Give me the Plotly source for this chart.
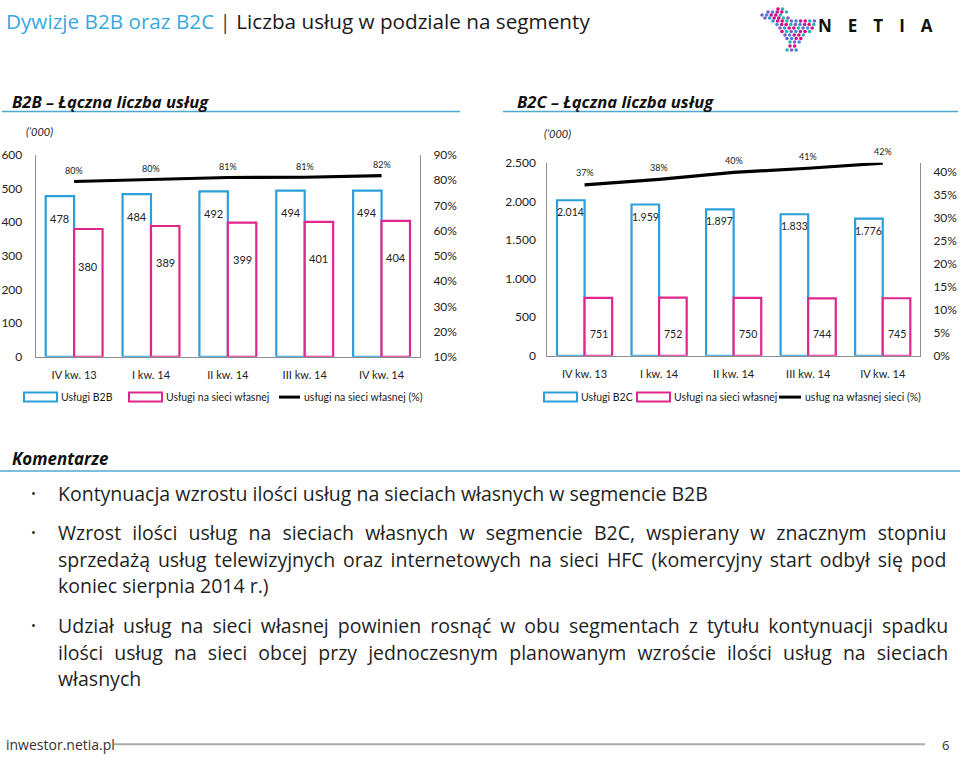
import plotly.graph_objects as go

W, H = 960, 759

categories = ["IV kw. 13", "I kw. 14", "II kw. 14", "III kw. 14", "IV kw. 14"]
b2b_total = [478, 484, 492, 494, 494]
b2b_own = [380, 389, 399, 401, 404]
b2b_pct = [0.795, 0.804, 0.811, 0.812, 0.818]
b2c_total = [2014, 1959, 1897, 1833, 1776]
b2c_own = [751, 752, 750, 744, 745]
b2c_pct = [0.372, 0.384, 0.399, 0.408, 0.419]

b2b_legend = ["Usługi B2B", "Usługi na sieci własnej", "usługi na sieci własnej (%)"]
b2c_legend = ["Usługi B2C", "Usługi na sieci własnej", "usług na własnej sieci (%)"]

BLUE = "#2C9FDA"
PINK = "#E0268C"
CHART_FONT = "Lato"
TEXT_FONT = "Open Sans"

# the photographed page shows the figure slightly offset/compressed vertically;
# these factors map reference pixel rows to figure rows
Y_OFF, Y_SCALE = 8.0, 0.98


def px(x):
    return x / W


def py(y):
    return 1 - ((y - Y_OFF) / Y_SCALE) / H


def fmt_pl(v):
    return f"{v:,}".replace(",", ".")


fig = go.Figure()

# B2B chart
fig.add_trace(go.Bar(x=categories, y=b2b_total, name=b2b_legend[0], xaxis="x", yaxis="y",
                     marker=dict(color="white", line=dict(color=BLUE, width=2.2))))
fig.add_trace(go.Bar(x=categories, y=b2b_own, name=b2b_legend[1], xaxis="x", yaxis="y",
                     marker=dict(color="white", line=dict(color=PINK, width=2.2))))
fig.add_trace(go.Scatter(x=categories, y=b2b_pct, name=b2b_legend[2], xaxis="x", yaxis="y2",
                         mode="lines", line=dict(color="black", width=3.2), cliponaxis=False))

# B2C chart
fig.add_trace(go.Bar(x=categories, y=b2c_total, name=b2c_legend[0], xaxis="x2", yaxis="y3",
                     marker=dict(color="white", line=dict(color=BLUE, width=2.2))))
fig.add_trace(go.Bar(x=categories, y=b2c_own, name=b2c_legend[1], xaxis="x2", yaxis="y3",
                     marker=dict(color="white", line=dict(color=PINK, width=2.2))))
fig.add_trace(go.Scatter(x=categories, y=b2c_pct, name=b2c_legend[2], xaxis="x2", yaxis="y4",
                         mode="lines", line=dict(color="black", width=3.2), cliponaxis=False))

annotations = []
lab_font = dict(family=CHART_FONT, size=11, color="#222")
lab_font_s = dict(family=CHART_FONT, size=10.5, color="#222")
pct_font = dict(family=CHART_FONT, size=9, color="#222")

# bar value labels
for c, v in zip(categories, b2b_total):
    annotations.append(dict(x=c, y=v, xref="x", yref="y", text=str(v), showarrow=False,
                            xshift=-14.2, yshift=-22, font=lab_font))
for c, v in zip(categories, b2b_own):
    annotations.append(dict(x=c, y=v, xref="x", yref="y", text=str(v), showarrow=False,
                            xshift=14.2, yshift=-37, font=lab_font))
for c, v in zip(categories, b2c_total):
    annotations.append(dict(x=c, y=v, xref="x2", yref="y3", text=fmt_pl(v), showarrow=False,
                            xshift=-14, yshift=-12, font=lab_font_s))
for c, v in zip(categories, b2c_own):
    annotations.append(dict(x=c, y=v, xref="x2", yref="y3", text=str(v), showarrow=False,
                            xshift=14, yshift=-36, font=lab_font_s))
# percentage labels above lines
for c, v in zip(categories, b2b_pct):
    annotations.append(dict(x=c, y=v, xref="x", yref="y2", text=f"{round(v*100)}%", showarrow=False,
                            yshift=11, font=pct_font))
for c, v in zip(categories, b2c_pct):
    annotations.append(dict(x=c, y=v, xref="x2", yref="y4", text=f"{round(v*100)}%", showarrow=False,
                            yshift=12, font=pct_font))


def txt(x, y, text, size, color="#1a1a1a", family=TEXT_FONT, anchor="left", **kw):
    annotations.append(dict(x=px(x), y=py(y), xref="paper", yref="paper", text=text, showarrow=False,
                            xanchor=anchor, yanchor="middle", font=dict(family=family, size=size, color=color), **kw))


shapes = []

# header
txt(4, 21, '<span style="color:#3AA8DE">Dywizje B2B oraz B2C</span> <span style="color:#444">|</span> Liczba usług w podziale na segmenty', 20.7)
txt(883, 25, '<b><span style="letter-spacing:16px">NETIA</span></b>', 17, color="#111", anchor="center")

# chart titles
txt(10, 101, "<b><i>B2B – Łączna liczba usług</i></b>", 16.6, color="#111")
txt(515, 101, "<b><i>B2C – Łączna liczba usług</i></b>", 16.6, color="#111")
txt(24, 131, "<i>(’000)</i>", 11, color="#222", family=CHART_FONT)
txt(542, 133, "<i>(’000)</i>", 11, color="#222", family=CHART_FONT)

# legends (drawn as keys + real text)
LEG_Y = 397


def legend_row(items):
    for kind, color, x0, x1, label in items:
        if kind == "box":
            shapes.append(dict(type="rect", xref="paper", yref="paper", x0=px(x0), x1=px(x1),
                               y0=py(LEG_Y + 4.5), y1=py(LEG_Y - 4.5), fillcolor="white",
                               line=dict(color=color, width=2)))
        else:
            shapes.append(dict(type="line", xref="paper", yref="paper", x0=px(x0), x1=px(x1),
                               y0=py(LEG_Y), y1=py(LEG_Y), line=dict(color=color, width=3)))
        txt(x1 + 2, LEG_Y, label, 10.5, color="#222", family=CHART_FONT)


legend_row([("box", BLUE, 24, 57, b2b_legend[0]), ("box", PINK, 129, 162, b2b_legend[1]),
            ("line", "black", 279, 300, b2b_legend[2])])
legend_row([("box", BLUE, 544, 577, b2c_legend[0]), ("box", PINK, 637, 670, b2c_legend[1]),
            ("line", "black", 779, 801, b2c_legend[2])])

# comments
txt(10, 458, "<b><i>Komentarze</i></b>", 16.9, color="#111")
lines = [
    (493, "Kontynuacja wzrostu ilości usług na sieciach własnych w segmencie B2B", 0, True),
    (532, "Wzrost ilości usług na sieciach własnych w segmencie B2C, wspierany w znacznym stopniu", 6.1, True),
    (559, "sprzedażą usług telewizyjnych oraz internetowych na sieci HFC (komercyjny start odbył się pod", 2.8, False),
    (585, "koniec sierpnia 2014 r.)", 0, False),
    (625, "Udział usług na sieci własnej powinien rosnąć w obu segmentach z tytułu kontynuacji spadku", 3.9, True),
    (652, "ilości usług na sieci obcej przy jednoczesnym planowanym wzroście ilości usług na sieciach", 6.0, False),
    (678, "własnych", 0, False),
]
for y, t, ws, bullet in lines:
    if ws:
        t = f'<span style="word-spacing:{ws}px">{t}</span>'
    txt(56, y, t, 19.5, color="#1f1f1f")
    if bullet:
        txt(29, y, "•", 13, color="#1f1f1f")

# footer
txt(4, 744, "inwestor.netia.pl", 14, color="#333")
txt(945, 745, "6", 13, color="#333", anchor="center")

shapes += [
    dict(type="line", xref="paper", yref="paper", x0=px(2), x1=px(460), y0=py(111.5), y1=py(111.5),
         line=dict(color="#4FA9D3", width=1.5)),
    dict(type="line", xref="paper", yref="paper", x0=px(503), x1=px(958), y0=py(111.5), y1=py(111.5),
         line=dict(color="#4FA9D3", width=1.5)),
    dict(type="line", xref="paper", yref="paper", x0=px(0), x1=px(960), y0=py(471), y1=py(471),
         line=dict(color="#4FA9D3", width=1.5)),
    dict(type="line", xref="paper", yref="paper", x0=px(114), x1=px(925), y0=py(744), y1=py(744),
         line=dict(color="#AAAAAA", width=2)),
]

# decorative logo dots
logo_rows = [(9, 778, 783), (12, 768, 788), (15, 762, 784), (18, 765, 790), (21, 773, 817),
             (24.5, 777, 817), (28, 780, 814), (31.5, 782, 812), (35, 785, 808), (38.5, 787, 805),
             (42, 790, 800), (46, 790, 798), (50, 787, 797)]
logo_cols = ["#E6007E", "#20B5B0", "#7B5CC9", "#3C8DDE", "#C2188F"]
k = 0
for ry, xa, xb in logo_rows:
    xx = xa
    while xx <= xb:
        r = 1.8
        shapes.append(dict(type="circle", xref="paper", yref="paper", x0=px(xx - r), x1=px(xx + r),
                           y0=py(ry + r), y1=py(ry - r), fillcolor=logo_cols[k % len(logo_cols)],
                           line=dict(width=0)))
        k += 1
        xx += 4.6

axis_common = dict(showgrid=False, zeroline=False, showline=True, linecolor="#8E8E8E", linewidth=1,
                   ticks="", tickfont=dict(family=CHART_FONT, size=12, color="#222"))
xtick_font = dict(family=CHART_FONT, size=11, color="#222")

fig.update_layout(
    width=W, height=H, margin=dict(l=0, r=0, t=0, b=0),
    paper_bgcolor="white", plot_bgcolor="white",
    separators=",.", showlegend=False,
    barmode="group", bargap=0.26, bargroupgap=0,
    xaxis=dict(domain=[px(35.7), px(420)], anchor="y", **{**axis_common, "tickfont": xtick_font}, ticklabelstandoff=8),
    yaxis=dict(domain=[py(356.7), py(155)], anchor="x", range=[0, 600], dtick=100, ticklabelstandoff=10, **axis_common),
    yaxis2=dict(overlaying="y", anchor="x", side="right", range=[0.1, 0.9], dtick=0.1, tickformat=".0%",
                ticklabelstandoff=10, **axis_common),
    xaxis2=dict(domain=[px(547.3), px(920)], anchor="y3", **{**axis_common, "tickfont": xtick_font}, ticklabelstandoff=8),
    yaxis3=dict(domain=[py(355.7), py(162.7)], anchor="x2", range=[0, 2500], dtick=500, tickformat=",d",
                ticklabelstandoff=8, **axis_common),
    yaxis4=dict(overlaying="y3", anchor="x2", side="right", range=[0, 0.42], dtick=0.05, tickformat=".0%",
                ticklabelstandoff=10, **axis_common),
    annotations=annotations,
    shapes=shapes,
)

fig.write_html(
    "out.html",
    config={"displayModeBar": False},
    post_script=(
        "document.documentElement.style.margin='0';document.documentElement.style.padding='0';"
        "document.documentElement.style.overflow='hidden';"
        "document.body.style.margin='0';document.body.style.padding='0';document.body.style.overflow='hidden';"
    ),
)
